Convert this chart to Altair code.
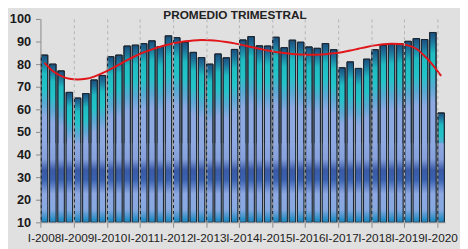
import altair as alt
import pandas as pd

years = [str(y) for y in range(2008, 2021)]
quarters = ["I", "II", "III", "IV"]

values = [
    84.0, 80.0, 77.0, 67.5,
    65.0, 67.0, 73.0, 75.0,
    83.3, 84.0, 88.0, 88.4,
    89.1, 90.3, 87.8, 92.5,
    91.7, 89.7, 85.2, 82.9,
    80.0, 84.5, 82.8, 86.5,
    90.7, 92.2, 88.1, 88.0,
    91.9, 87.3, 90.6, 89.7,
    87.6, 87.0, 89.1, 86.4,
    78.4, 81.0, 78.1, 82.2,
    86.4, 88.3, 88.7, 89.1,
    90.1, 91.3, 90.9, 94.0,
    58.4,
]

trend = [
    80.6, 77.0, 74.8, 73.5,
    73.2, 73.5, 74.5, 76.0,
    77.8, 79.8, 81.8, 83.6,
    85.2, 86.5, 87.7, 88.7,
    89.5, 90.1, 90.5, 90.7,
    90.6, 90.3, 89.8, 89.2,
    88.4, 87.6, 86.8, 86.0,
    85.4, 84.9, 84.5, 84.3,
    84.2, 84.2, 84.4, 84.8,
    85.3, 86.0, 86.8, 87.6,
    88.3, 88.8, 89.0, 88.9,
    88.3, 86.8, 83.6, 79.6,
    74.8,
]

categories = []
for y in years:
    for q in quarters:
        categories.append(f"{q}-{y}")
categories = categories[: len(values)]
year_starts = [f"I-{y}" for y in years]
y_ticks = [10, 20, 30, 40, 50, 60, 70, 80, 90, 100]

df = pd.DataFrame({
    "q": categories,
    "v": values,
    "t": trend,
    "base": [10] * len(values),
    "band": [45] * len(values),
})

x_axis = alt.Axis(
    values=year_starts,
    bandPosition=0,
    title=None,
    labelAngle=0,
    labelOverlap=False,
    labelFont="Liberation Sans",
    labelFontSize=12,
    labelColor="#222222",
    labelPadding=6,
    tickColor="#8a8a8a",
    tickSize=5,
    domainColor="#b0b0b0",
    grid=True,
    gridColor="#b4b4b4",
    gridDash=[3, 3],
    gridWidth=1,
    zindex=1,
)
x_scale = alt.Scale(paddingInner=0.22, paddingOuter=0.11)

y_scale = alt.Scale(domain=[10, 100], nice=False, zero=False)
y_axis = alt.Axis(
    values=y_ticks,
    tickCount=10,
    title=None,
    labelOverlap=False,
    labelFont="Liberation Sans",
    labelFontWeight="bold",
    labelFontSize=13,
    labelColor="#1a1a1a",
    labelPadding=5,
    tickColor="#8a8a8a",
    tickSize=5,
    domainColor="#8a8a8a",
    grid=False,
)


def X():
    return alt.X("q:N", sort=categories, scale=x_scale, axis=x_axis)


def Y(field):
    return alt.Y(field, type="quantitative", scale=y_scale, axis=y_axis)


grad_main = alt.Gradient(
    gradient="linear",
    x1=0, x2=0, y1=0, y2=1,
    stops=[
        alt.GradientStop(color="#1a4f7e", offset=0),
        alt.GradientStop(color="#1e6f98", offset=0.04),
        alt.GradientStop(color="#1fbcc2", offset=0.11),
        alt.GradientStop(color="#22c4c8", offset=0.20),
        alt.GradientStop(color="#5aa9d4", offset=0.29),
        alt.GradientStop(color="#8ea8e2", offset=0.37),
        alt.GradientStop(color="#8ea8e2", offset=1),
    ],
)

grad_band = alt.Gradient(
    gradient="linear",
    x1=0, x2=0, y1=0, y2=1,
    stops=[
        alt.GradientStop(color="#8ea8e2", offset=0),
        alt.GradientStop(color="#86a0dc", offset=0.2),
        alt.GradientStop(color="#3a5aa6", offset=0.34),
        alt.GradientStop(color="#3a62b0", offset=0.46),
        alt.GradientStop(color="#8ea8e2", offset=0.64),
        alt.GradientStop(color="#86a8e0", offset=0.84),
        alt.GradientStop(color="#2a8ec6", offset=0.96),
        alt.GradientStop(color="#2580b8", offset=1),
    ],
)

base = alt.Chart(df)

bars = base.mark_bar(color=grad_main, stroke="#1c2834", strokeWidth=1).encode(
    x=X(), y=Y("v"), y2="base:Q",
)

bars_low = base.mark_bar(color=grad_band, strokeWidth=0).encode(
    x=X(), y=Y("band"), y2="base:Q",
)

bars_outline = base.mark_bar(fillOpacity=0, stroke="#1c2834", strokeWidth=1).encode(
    x=X(), y=Y("v"), y2="base:Q",
)

line = base.mark_line(color="#e0161b", strokeWidth=2, interpolate="monotone").encode(
    x=X(), y=Y("t"),
)

title_df = pd.DataFrame({"title": ["PROMEDIO TRIMESTRAL"]})
title = alt.Chart(title_df).mark_text(
    font="Liberation Sans", fontSize=12, fontWeight="bold", color="#222222",
    baseline="alphabetic", align="center",
).encode(text="title:N", x=alt.value(198), y=alt.value(0))

chart = alt.layer(bars, bars_low, bars_outline, line, title).properties(
    width=412,
    height=207,
    autosize=alt.AutoSizeParams(type="none"),
    padding={"left": 33, "top": 9, "right": 15, "bottom": 25},
    background="#e0e0e0",
).configure_view(stroke=None)

chart.save("out.html", embed_options={"renderer": "svg", "actions": False})
